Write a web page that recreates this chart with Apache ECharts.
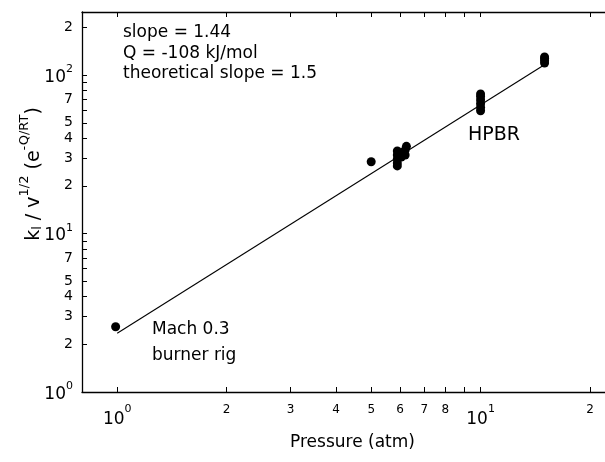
<!DOCTYPE html>
<html>
<head>
<meta charset="utf-8">
<script src="https://cdn.jsdelivr.net/npm/echarts@6/dist/echarts.min.js"></script>
<style>
html,body{margin:0;padding:0;background:#fff;}
#chart{width:605px;height:462px;}
</style>
</head>
<body>
<div id="chart"></div>
<script>
// ---- data ----
const burnerPressure = [0.99];
const burnerValue = [2.58];
const pressure5 = [5.0];
const value5 = [28.4];
const cluster6Pressure = [5.9, 5.9, 5.9, 5.9, 5.9, 6.05, 6.1, 6.2, 6.2, 6.25];
const cluster6Value = [26.7, 27.9, 29.5, 31.3, 33.2, 30.4, 32.5, 31.3, 33.6, 35.5];
const hpbrPressure = [10, 10, 10, 10, 10, 10];
const hpbrValue = [59.5, 62.5, 66, 69.5, 73, 76];
const p15Pressure = [15, 15, 15, 15];
const p15Value = [119, 123, 127, 130];
const fitPressure = [1.0, 14.8];
const fitValue = [2.35, 114];

const xTickLabels = [1, 2, 3, 4, 5, 6, 7, 8, 10, 20];
const xTicks = [1, 2, 3, 4, 5, 6, 7, 8, 9, 10, 20];
const yTickLabels = [1, 2, 3, 4, 5, 7, 10, 20, 30, 40, 50, 70, 100, 200];
const yTicks = [1, 2, 3, 4, 5, 6, 7, 8, 9, 10, 20, 30, 40, 50, 60, 70, 80, 90, 100, 200];

const FONT = '"DejaVu Sans", "Liberation Sans", sans-serif';

function zipPts(xs, ys) { return xs.map((x, i) => [x, ys[i]]); }
const scatterData = [].concat(
  zipPts(burnerPressure, burnerValue),
  zipPts(pressure5, value5),
  zipPts(cluster6Pressure, cluster6Value),
  zipPts(hpbrPressure, hpbrValue),
  zipPts(p15Pressure, p15Value)
);
const fitData = zipPts(fitPressure, fitValue);

function logLabel(v) {
  const r = Math.round(v);
  const e = Math.floor(Math.log10(r) + 1e-9);
  const mant = Math.round(r / Math.pow(10, e));
  if (mant === 1) return '{b|10}{s|' + e + '}';
  return '{m|' + mant + '}';
}

const chart = echarts.init(document.getElementById('chart'), null, {renderer: 'canvas'});
const axisLineStyle = {color: '#000', width: 1.3};
chart.setOption({
  animation: false,
  backgroundColor: '#fff',
  grid: {left: 82, top: 12, right: 0, bottom: 70, containLabel: false},
  xAxis: [{
    type: 'log', logBase: 10, min: 0.8, max: 22,
    position: 'bottom',
    name: 'Pressure (atm)', nameLocation: 'middle', nameGap: 42, nameMoveOverlap: false,
    nameTextStyle: {fontFamily: FONT, fontSize: 17, color: '#000', padding: [0, 0, 0, 18]},
    axisLine: {show: true, lineStyle: axisLineStyle},
    axisTick: {show: true, inside: true, length: 5, customValues: xTicks, lineStyle: {color: '#000'}},
    axisLabel: {
      show: true, margin: 12, customValues: xTickLabels, formatter: logLabel, color: '#000',
      rich: {
        b: {fontFamily: FONT, fontSize: 17, lineHeight: 24, verticalAlign: 'bottom', color: '#000'},
        s: {fontFamily: FONT, fontSize: 11, lineHeight: 12, verticalAlign: 'top', color: '#000'},
        m: {fontFamily: FONT, fontSize: 12, lineHeight: 14, verticalAlign: 'top', color: '#000'}
      }
    },
    splitLine: {show: false}, minorTick: {show: false}
  }, {
    type: 'log', logBase: 10, min: 0.8, max: 22,
    position: 'top',
    axisLine: {show: true, lineStyle: axisLineStyle},
    axisTick: {show: true, inside: true, length: 5, customValues: xTicks, lineStyle: {color: '#000'}},
    axisLabel: {show: false},
    splitLine: {show: false}
  }],
  yAxis: [{
    type: 'log', logBase: 10, min: 1, max: 250,
    position: 'left',
    name: '{t|k}{sub|l}{t| / v}{sup|1/2}{t| (e}{sup|-Q/RT}{t|)}',
    nameLocation: 'middle', nameRotate: 90, nameGap: 38, nameMoveOverlap: false,
    nameTextStyle: {
      fontFamily: FONT, fontSize: 19, color: '#000', padding: [0, 0, 0, 56],
      rich: {
        t: {fontFamily: FONT, fontSize: 19, lineHeight: 26, verticalAlign: 'bottom', color: '#000'},
        sub: {fontFamily: FONT, fontSize: 13, lineHeight: 13, verticalAlign: 'bottom', color: '#000'},
        sup: {fontFamily: FONT, fontSize: 13, lineHeight: 13, verticalAlign: 'top', color: '#000'}
      }
    },
    axisLine: {show: true, lineStyle: axisLineStyle},
    axisTick: {show: true, inside: true, length: 5, customValues: yTicks, lineStyle: {color: '#000'}},
    axisLabel: {
      show: true, margin: 9, customValues: yTickLabels, formatter: logLabel, color: '#000',
      rich: {
        b: {fontFamily: FONT, fontSize: 17, lineHeight: 22, verticalAlign: 'bottom', color: '#000'},
        s: {fontFamily: FONT, fontSize: 11, lineHeight: 12, verticalAlign: 'top', color: '#000'},
        m: {fontFamily: FONT, fontSize: 14, lineHeight: 16, color: '#000'}
      }
    },
    splitLine: {show: false}
  }],
  graphic: [
    {type: 'text', left: 123, top: 24, style: {text: 'slope = 1.44', font: '17px ' + FONT, fill: '#000'}},
    {type: 'text', left: 123, top: 45, style: {text: 'Q = -108 kJ/mol', font: '17px ' + FONT, fill: '#000'}},
    {type: 'text', left: 123, top: 65, style: {text: 'theoretical slope = 1.5', font: '17px ' + FONT, fill: '#000'}},
    {type: 'text', left: 468, top: 126, style: {text: 'HPBR', font: '19px ' + FONT, fill: '#000'}},
    {type: 'text', left: 152, top: 321, style: {text: 'Mach 0.3', font: '17px ' + FONT, fill: '#000'}},
    {type: 'text', left: 152, top: 347, style: {text: 'burner rig', font: '17px ' + FONT, fill: '#000'}}
  ],
  series: [{
    type: 'line', xAxisIndex: 0, yAxisIndex: 0, data: fitData,
    showSymbol: false, symbol: 'none',
    lineStyle: {color: '#000', width: 1.1}
  }, {
    type: 'scatter', xAxisIndex: 0, yAxisIndex: 0, data: scatterData,
    symbol: 'circle', symbolSize: 9,
    itemStyle: {color: '#000', opacity: 1}
  }]
});
</script>
</body>
</html>
